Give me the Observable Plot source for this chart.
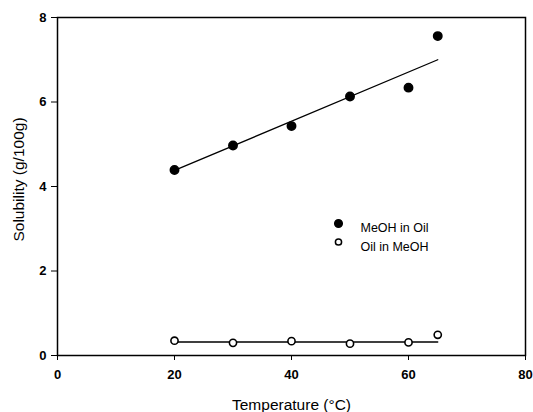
<!DOCTYPE html>
<html>
<head>
<meta charset="utf-8">
<script src="https://cdn.jsdelivr.net/npm/d3@7"></script>
<script src="https://cdn.jsdelivr.net/npm/@observablehq/plot@0.6"></script>
<style>
  html, body { margin: 0; padding: 0; background: #fff; }
  #chart svg { display: block; }
</style>
</head>
<body>
<div id="chart"></div>
<script>
// Measured solubilities (g/100g) against temperature (°C)
const temperature = [20, 30, 40, 50, 60, 65];
const meohInOil = [4.39, 4.97, 5.43, 6.13, 6.34, 7.56];
const oilInMeoh = [0.35, 0.30, 0.34, 0.28, 0.31, 0.49];

// Straight-line fits drawn through each series (end points)
const fitTemperature = [20, 65];
const fitMeohInOil = [4.38, 7.0];
const fitOilInMeoh = [0.32, 0.32];

const seriesNames = ["MeOH in Oil", "Oil in MeOH"];
const xTicks = [0, 20, 40, 60, 80];
const yTicks = [0, 2, 4, 6, 8];

const meohRows = temperature.map((t, i) => ({t, v: meohInOil[i]}));
const oilRows = temperature.map((t, i) => ({t, v: oilInMeoh[i]}));
const fitMeohRows = fitTemperature.map((t, i) => ({t, v: fitMeohInOil[i]}));
const fitOilRows = fitTemperature.map((t, i) => ({t, v: fitOilInMeoh[i]}));

const font = "'Liberation Sans', Arial, sans-serif";

const chart = Plot.plot({
  width: 533,
  height: 412,
  marginLeft: 57,
  marginRight: 8,
  marginTop: 17,
  marginBottom: 57,
  style: {fontFamily: font, fontSize: "12px", color: "#000", background: "#fff"},
  x: {domain: [0, 80]},
  y: {domain: [0, 8]},
  marks: [
    Plot.frame({stroke: "#000", strokeWidth: 1.5}),
    Plot.axisX({ticks: xTicks, tickSize: 5, tickPadding: 9, label: null, fontWeight: "bold", fontSize: 13}),
    Plot.axisY({ticks: yTicks, tickSize: 6, tickPadding: 5, label: null, fontWeight: "bold", fontSize: 13}),
    Plot.text(["Temperature (°C)"], {frameAnchor: "bottom", dy: 54, fontSize: 15.5, fill: "#000"}),
    Plot.text(["Solubility (g/100g)"], {frameAnchor: "left", textAnchor: "middle", rotate: -90, dx: -38, dy: -7, fontSize: 15.5, fill: "#000"}),
    Plot.line(fitMeohRows, {x: "t", y: "v", stroke: "#000", strokeWidth: 1.3}),
    Plot.line(fitOilRows, {x: "t", y: "v", stroke: "#000", strokeWidth: 1.3}),
    Plot.dot(meohRows, {x: "t", y: "v", r: 4.2, fill: "#000", stroke: "#000"}),
    Plot.dot(oilRows, {x: "t", y: "v", r: 3.6, fill: "#fff", stroke: "#000", strokeWidth: 1.6}),
    // legend
    Plot.dot([seriesNames[0]], {frameAnchor: "top-left", dx: 281, dy: 206, r: 3.8, fill: "#000", stroke: "#000"}),
    Plot.dot([seriesNames[1]], {frameAnchor: "top-left", dx: 281, dy: 224.5, r: 3.1, fill: "#fff", stroke: "#000", strokeWidth: 1.5}),
    Plot.text([seriesNames[0]], {frameAnchor: "top-left", dx: 303, dy: 206, text: d => d, textAnchor: "start", fontSize: 12.5, fill: "#000"}),
    Plot.text([seriesNames[1]], {frameAnchor: "top-left", dx: 303, dy: 224.5, text: d => d, textAnchor: "start", fontSize: 12.5, fill: "#000"})
  ]
});

document.getElementById("chart").append(chart);
</script>
</body>
</html>
